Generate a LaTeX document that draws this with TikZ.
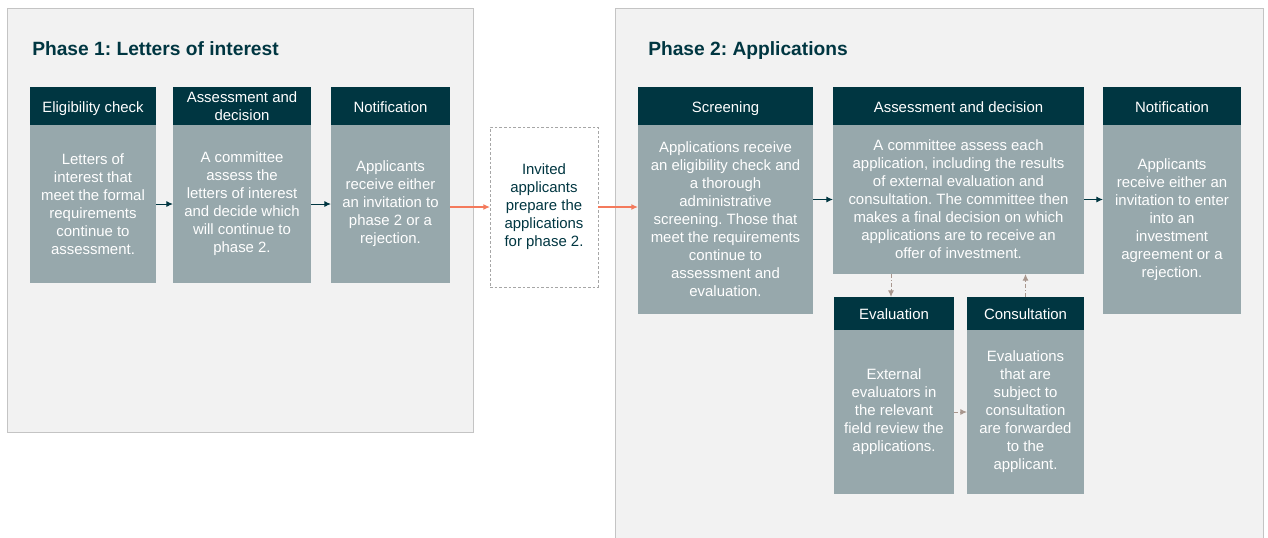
\documentclass[tikz,border=0pt]{standalone}
\usepackage{fontspec}
\setmainfont{Liberation Sans}
\usetikzlibrary{positioning,arrows.meta}
\definecolor{darkteal}{HTML}{003641}
\definecolor{boxgrey}{HTML}{97A8AC}
\definecolor{panelgrey}{HTML}{F2F2F2}
\definecolor{panelline}{HTML}{C4C4C4}
\definecolor{flowred}{HTML}{F47A5C}
\definecolor{linkgrey}{HTML}{A8978E}
\newcommand{\boxfont}{\fontsize{11.2}{13.5}\selectfont}
\newcommand{\titlefont}{\fontsize{14.4}{17}\selectfont\bfseries}
\frenchspacing

\begin{document}
\begin{tikzpicture}[x=0.75pt, y=-0.75pt,
    >={Latex[length=5pt,width=4.5pt]},
    panel/.style={fill=panelgrey, draw=panelline, line width=0.75pt},
    title/.style={anchor=base west, inner sep=0pt, text=darkteal, font=\titlefont},
    head/.style={fill=darkteal, text=white, inner sep=0pt, outer sep=0pt,
      anchor=north west, align=center, minimum height=28.5pt, font=\boxfont},
    oneline/.style={text height=10.2pt, text depth=1pt},
    body/.style={fill=boxgrey, text=white, inner sep=0pt, outer sep=0pt,
      align=center, font=\boxfont},
    invited/.style={fill=white, draw=black!35, dash pattern=on 2pt off 1.5pt,
      line width=0.5pt, text=darkteal, inner sep=0pt, outer sep=0pt,
      anchor=north west, align=center, font=\boxfont},
    flow/.style={draw=darkteal, line width=0.75pt, ->},
    redflow/.style={draw=flowred, line width=1pt, ->},
    link/.style={draw=linkgrey, line width=0.75pt, dash pattern=on 3pt off 1.5pt on 1pt off 1.5pt, ->}]
    \useasboundingbox (0,0) rectangle (1268,537);

    % panels
    \draw[panel] (7,8) rectangle (473,432);
    \draw[panel] (615,540) -- (615,8) -- (1263,8) -- (1263,540);
    \node[title] (phaseone) at (32,55.5) {Phase 1: Letters of interest};
    \node[title] (phasetwo) at (648,55.5) {Phase 2: Applications};

    % phase 1
    \node[head, oneline, minimum width=94.5pt] (elig) at (30,87) {Eligibility check};
    \node[body, minimum width=94.5pt, minimum height=118.5pt, below=0pt of elig] (eligtext)
      {Letters of\\interest that\\meet the formal\\requirements\\continue to\\assessment.};
    \node[head, minimum width=103.5pt] (assess) at (173,87) {Assessment and\\decision};
    \node[body, minimum width=103.5pt, minimum height=118.5pt, below=0pt of assess] (assesstext)
      {A committee\\assess the\\letters of interest\\and decide which\\will continue to\\phase 2.};
    \node[head, oneline, minimum width=89.25pt] (notify) at (331,87) {Notification};
    \node[body, minimum width=89.25pt, minimum height=118.5pt, below=0pt of notify] (notifytext)
      {Applicants\\receive either\\an invitation to\\phase 2 or a\\rejection.};

    \node[invited, minimum width=81pt, minimum height=120pt] (prepare) at (490,127)
      {Invited\\applicants\\prepare the\\applications\\for phase 2.};

    % phase 2
    \node[head, oneline, minimum width=131.25pt] (screen) at (638,87) {Screening};
    \node[body, minimum width=131.25pt, minimum height=141.75pt, below=0pt of screen] (screentext)
      {Applications receive\\an eligibility check and\\a thorough\\administrative\\screening. Those that\\meet the requirements\\continue to\\assessment and\\evaluation.};
    \node[head, oneline, minimum width=188.25pt] (decide) at (833,87) {Assessment and decision};
    \node[body, minimum width=188.25pt, minimum height=111.75pt, below=0pt of decide] (decidetext)
      {A committee assess each\\application, including the results\\of external evaluation and\\consultation. The committee then\\makes a final decision on which\\applications are to receive an\\offer of investment.};
    \node[head, oneline, minimum width=103.5pt] (result) at (1103,87) {Notification};
    \node[body, minimum width=103.5pt, minimum height=141.75pt, below=0pt of result] (resulttext)
      {Applicants\\receive either an\\invitation to enter\\into an\\investment\\agreement or a\\rejection.};
    \node[head, oneline, minimum width=90pt, minimum height=24.75pt] (eval) at (834,297) {Evaluation};
    \node[body, minimum width=90pt, minimum height=123pt, below=0pt of eval] (evaltext)
      {External\\evaluators in\\the relevant\\field review the\\applications.};
    \node[head, oneline, minimum width=87.75pt, minimum height=24.75pt] (consult) at (967,297) {Consultation};
    \node[body, minimum width=87.75pt, minimum height=123pt, below=0pt of consult] (consulttext)
      {Evaluations\\that are\\subject to\\consultation\\are forwarded\\to the\\applicant.};

    % connectors
    \draw[flow] (eligtext.east) -- (assesstext.west);
    \draw[flow] (assesstext.east) -- (notifytext.west);
    \draw[redflow] (prepare.west -| notifytext.east) -- (prepare.west);
    \draw[redflow] (prepare.east) -- (prepare.east -| screentext.west);
    \draw[flow] (decidetext.west -| screentext.east) -- (decidetext.west);
    \draw[flow] (decidetext.east) -- (decidetext.east -| resulttext.west);
    \draw[link] ([xshift=-2.25pt]decidetext.south -| eval.north) -- ([xshift=-2.25pt]eval.north);
    \draw[link] (evaltext.east) -- (consulttext.west);
    \draw[link] (consult.north) -- (consult.north |- decidetext.south);
\end{tikzpicture}
\end{document}
